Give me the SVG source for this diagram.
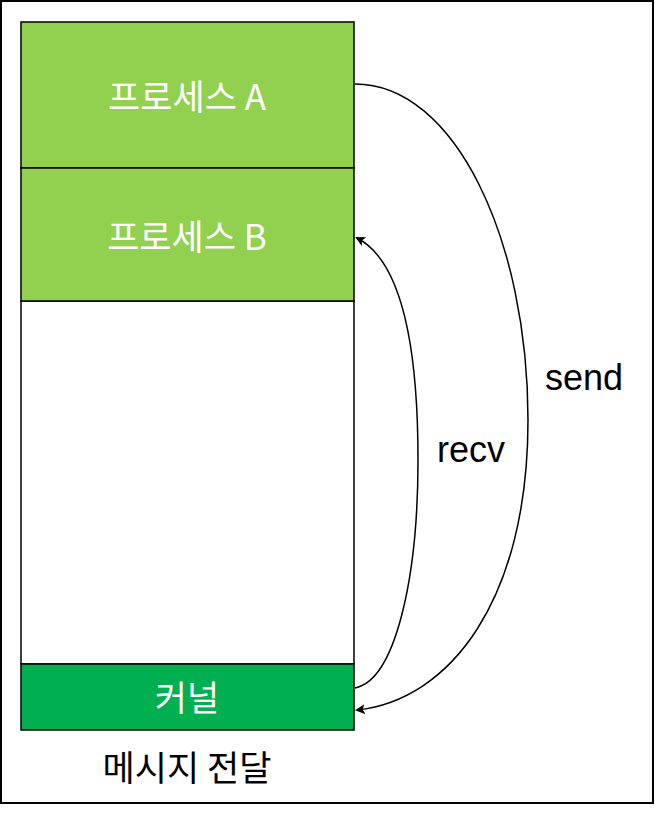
<svg xmlns="http://www.w3.org/2000/svg" width="655" height="813" viewBox="0 0 655 813">
<style>
.box{stroke:#000;stroke-width:1.5}
.kr{font-family:"Noto Sans CJK KR","Noto Sans",sans-serif;font-size:35px;text-anchor:middle;dominant-baseline:central}
.lbl{font-family:"Liberation Sans",Arial,sans-serif;font-size:36px;text-anchor:middle;fill:#000}
.conn{fill:none;stroke:#000;stroke-width:1.5}
</style>
<defs>
<marker id="arr" markerWidth="10" markerHeight="10" refX="8" refY="5" orient="auto" markerUnits="userSpaceOnUse">
<path d="M0,0 L10,5 L0,10 L2.5,5 Z" fill="#000"/>
</marker>
</defs>
<rect x="1" y="1" width="652" height="802" fill="#fff" stroke="#000" stroke-width="2"/>
<g id="empty"><rect class="box" x="21" y="301" width="333" height="363" fill="#fff"/></g>
<g id="procA"><rect class="box" x="21" y="22" width="333" height="146" fill="#92d050"/><text class="kr" x="187" y="94" fill="#fff">프로세스 A</text></g>
<g id="procB"><rect class="box" x="21" y="168" width="333" height="133" fill="#92d050"/><text class="kr" x="187" y="234" fill="#fff">프로세스 B</text></g>
<g id="kernel"><rect class="box" x="21" y="664" width="333" height="66" fill="#00b050"/><text class="kr" x="187" y="695" fill="#fff">커널</text></g>
<g id="caption"><text class="kr" x="187" y="765" fill="#000">메시지 전달</text></g>
<g id="connectors">
<path class="conn" d="M355,84 C455,84 528,240 528,420 C528,600 450,700 357,710" marker-end="url(#arr)"/>
<path class="conn" d="M355,688 C395,680 418,580 418,460 C418,340 400,260 357,238" marker-end="url(#arr)"/>
<text class="lbl" x="584" y="390">send</text>
<text class="lbl" x="471" y="462">recv</text>
</g>
</svg>
